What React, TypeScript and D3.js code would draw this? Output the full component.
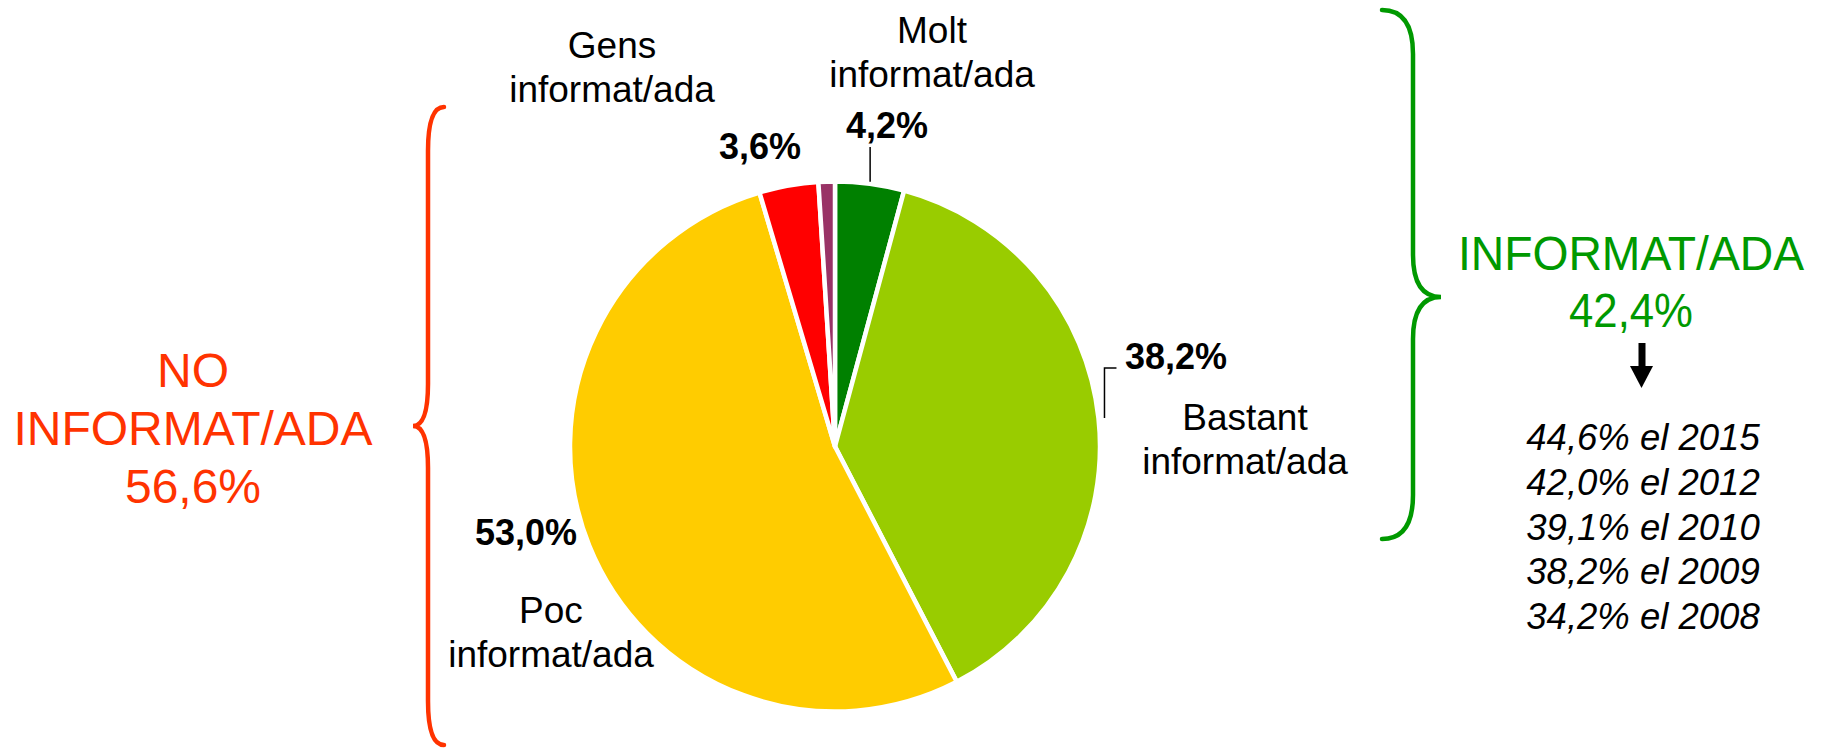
import * as d3 from 'd3';

// slices, clockwise from 12 o'clock
const categories = ['Molt informat/ada', 'Bastant informat/ada', 'Poc informat/ada', 'Gens informat/ada', 'Ns/Nc'];
const values = [4.2, 38.2, 53.0, 3.6, 1.0];
const colors = ['#008000', '#99CC00', '#FFCC00', '#FF0000', '#993366'];

const history = ['44,6% el 2015', '42,0% el 2012', '39,1% el 2010', '38,2% el 2009', '34,2% el 2008'];
const groupNo = ['NO', 'INFORMAT/ADA', '56,6%'];
const groupYes = ['INFORMAT/ADA', '42,4%'];

const fmt = (v: number) => v.toFixed(1).replace('.', ',') + '%';

const width = 1847;
const height = 748;
const cx = 835;
const cy = 446.5;
const radius = 265;
const font = '"Liberation Sans", Arial, sans-serif';

// where the text for each slice sits (null = no label)
const labelLayout = [
  { pct: [887, 138], name: [932, 43], leader: 'top' },
  { pct: [1176, 369], name: [1245, 430], leader: 'side' },
  { pct: [526, 545], name: [551, 623], leader: null },
  { pct: [760, 159], name: [612, 58], leader: null },
  null,
];

// curly brace: x = spine, w = how far the ends hook, t = how far the tip points
function brace(x: number, y0: number, y1: number, tip: number, w: number, t: number) {
  const p = d3.path();
  const L = 44;
  const T = 42;
  p.moveTo(x + w, y0);
  p.quadraticCurveTo(x, y0, x, y0 + L);
  p.lineTo(x, tip - T);
  p.quadraticCurveTo(x, tip, x - t, tip);
  p.quadraticCurveTo(x, tip, x, tip + T);
  p.lineTo(x, y1 - L);
  p.quadraticCurveTo(x, y1, x + w, y1);
  return p.toString();
}

export default function App() {
  const pie = d3.pie<number>().sort(null).value(d => d)(values);
  const arc = d3.arc<d3.PieArcDatum<number>>().innerRadius(0).outerRadius(radius);

  const lineH = 44;

  return (
    <svg width={width} height={height} style={{ position: 'absolute', left: 0, top: 0, background: '#fff' }}
      fontFamily={font}>
      <g transform={`translate(${cx},${cy})`}>
        {pie.map((d, i) => (
          <path key={i} d={arc(d) ?? ''} fill={colors[i]} stroke="#fff" strokeWidth={4.5} strokeLinejoin="round" />
        ))}
      </g>

      {pie.map((d, i) => {
        const lay = labelLayout[i];
        if (!lay) return null;
        const mid = (d.startAngle + d.endAngle) / 2;
        const ax = cx + (radius + 2) * Math.sin(mid);
        const ay = cy - (radius + 2) * Math.cos(mid);
        const [nm1, nm2] = categories[i].split(' ');
        return (
          <g key={i}>
            {lay.leader === 'top' && (
              <line x1={ax} x2={ax} y1={ay} y2={lay.pct[1] + 9} stroke="#000" strokeWidth={1.5} />
            )}
            {lay.leader === 'side' && (
              <polyline points={`${ax + 4},${ay} ${ax + 4},${lay.pct[1] - 1} ${ax + 16},${lay.pct[1] - 1}`}
                fill="none" stroke="#000" strokeWidth={1.5} />
            )}
            <text x={lay.pct[0]} y={lay.pct[1]} textAnchor="middle" fontSize={36} fontWeight="bold">{fmt(values[i])}</text>
            <text x={lay.name[0]} y={lay.name[1]} textAnchor="middle" fontSize={37}>{nm1}</text>
            <text x={lay.name[0]} y={lay.name[1] + lineH} textAnchor="middle" fontSize={37}>{nm2}</text>
          </g>
        );
      })}

      {/* no informat/ada group */}
      <path d={brace(428, 107, 745, 426, 16, 15)} fill="none" stroke="#FF3300" strokeWidth={4.5} strokeLinecap="round" />
      {groupNo.map((t, i) => (
        <text key={t} x={193} y={387 + i * 58} textAnchor="middle" fontSize={48} fill="#FF3300">{t}</text>
      ))}

      {/* informat/ada group */}
      <path d={brace(1413, 10, 539, 297, -31, -28)} fill="none" stroke="#009900" strokeWidth={4.5} strokeLinecap="round" />
      {groupYes.map((t, i) => (
        <text key={t} x={1631} y={270 + i * 57} textAnchor="middle" fontSize={48} fill="#009900"
          textLength={[346, 124][i]} lengthAdjust="spacingAndGlyphs">{t}</text>
      ))}

      {/* arrow */}
      <rect x={1638.5} y={343} width={7} height={25} fill="#000" />
      <path d="M1630,366 L1653,366 L1641.5,388 Z" fill="#000" />

      {history.map((t, i) => (
        <text key={t} x={1643} y={450 + i * 44.8} textAnchor="middle" fontSize={36.5} fontStyle="italic">{t}</text>
      ))}
    </svg>
  );
}
